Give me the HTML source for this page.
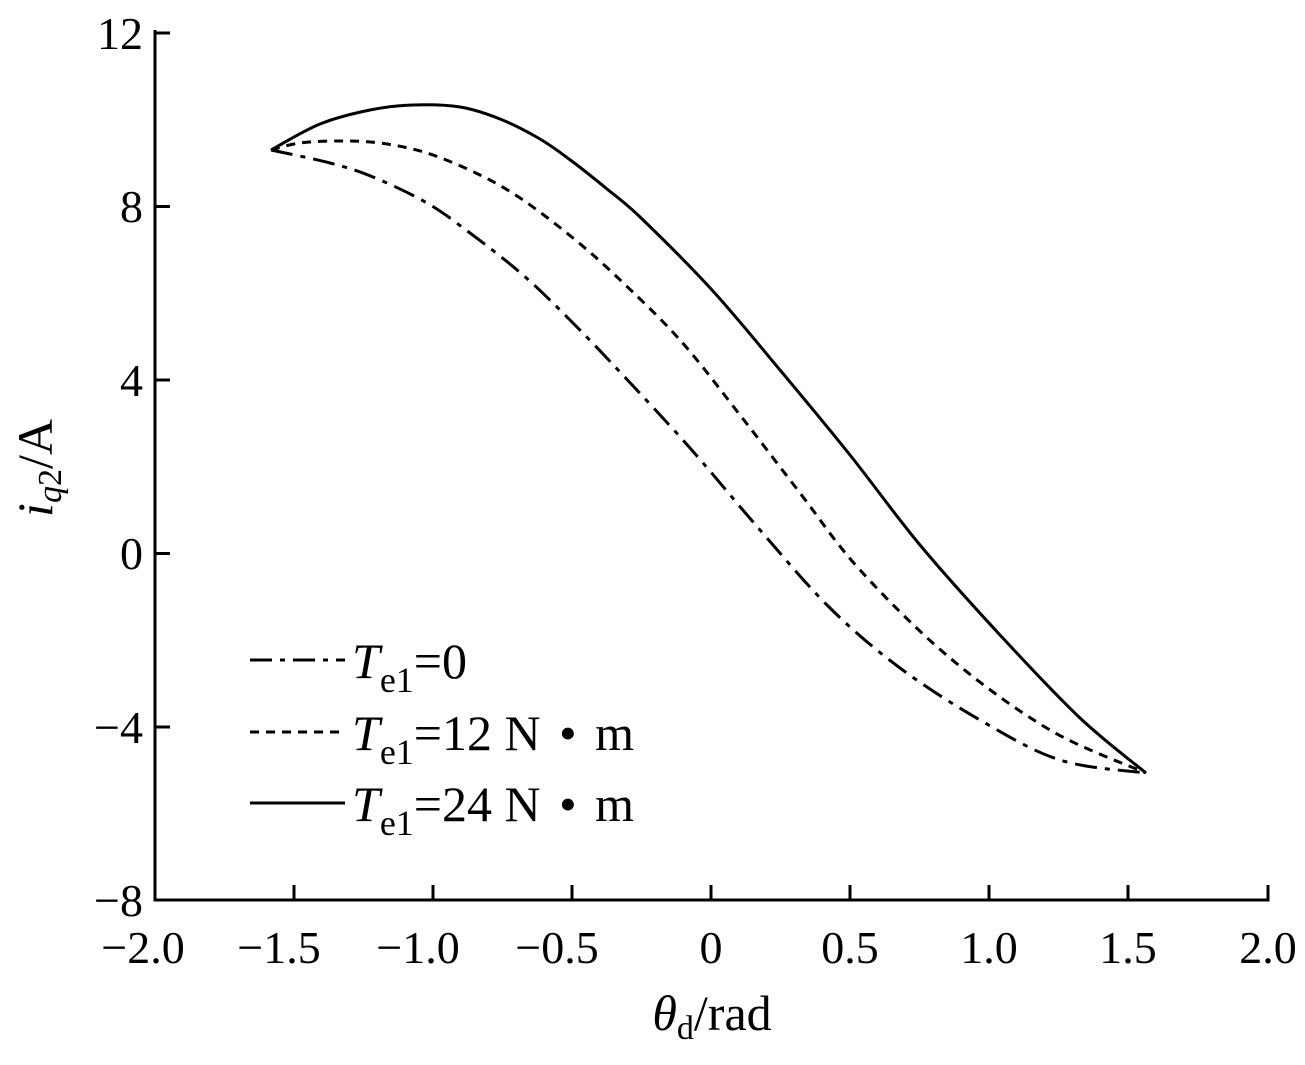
<!DOCTYPE html>
<html><head><meta charset="utf-8"><style>
html,body{margin:0;padding:0;background:#fff;}
svg{display:block;}
text{font-family:"Liberation Serif",serif;fill:#000;}
</style></head><body>
<svg id="s" width="1305" height="1065" viewBox="0 0 1305 1065" xmlns="http://www.w3.org/2000/svg">
<g stroke="#000" stroke-width="3" fill="none">
<path d="M155,30 V900 H1268 V885"/>
<path d="M155,33 H170 M155,206.5 H170 M155,380 H170 M155,553.5 H170 M155,727 H170"/>
<path d="M294,900 V885 M433,900 V885 M572,900 V885 M711,900 V885 M850,900 V885 M989,900 V885 M1128,900 V885"/>
</g>
<g font-size="46" text-anchor="end">
<text x="143" y="49">12</text>
<text x="143" y="222">8</text>
<text x="143" y="396">4</text>
<text x="143" y="569">0</text>
<text x="143" y="743">−4</text>
<text x="143" y="916">−8</text>
</g>
<g font-size="46" text-anchor="middle">
<text x="143" y="963">−2.0</text>
<text x="279" y="963">−1.5</text>
<text x="418" y="963">−1.0</text>
<text x="557" y="963">−0.5</text>
<text x="711" y="963">0</text>
<text x="850" y="963">0.5</text>
<text x="989" y="963">1.0</text>
<text x="1128" y="963">1.5</text>
<text x="1268" y="963">2.0</text>
</g>
<text x="712" y="1030" font-size="50" text-anchor="middle"><tspan font-style="italic">θ</tspan><tspan font-size="34" dy="9">d</tspan><tspan dy="-9">/rad</tspan></text>
<text transform="translate(52,468) rotate(-90)" font-size="50" text-anchor="middle"><tspan font-style="italic">i</tspan><tspan font-size="34" dy="9" font-style="italic">q</tspan><tspan font-size="34" dy="0">2</tspan><tspan dy="-9">/A</tspan></text>
<g stroke="#000" stroke-width="3" fill="none">
<path id="c1" stroke-dasharray="22,8,5,8"/>
<path id="c2" stroke-dasharray="9,7"/>
<path id="c3"/>
<path d="M250,660 H345" stroke-dasharray="22,8,5,8"/>
<path d="M250,732 H345" stroke-dasharray="9,7"/>
<path d="M250,803 H345"/>
</g>
<g font-size="50">
<text x="352" y="678"><tspan font-style="italic">T</tspan><tspan font-size="36" dy="14">e1</tspan><tspan dy="-14">=0</tspan></text>
<text x="352" y="750"><tspan font-style="italic">T</tspan><tspan font-size="36" dy="14">e1</tspan><tspan dy="-14">=12 N </tspan><tspan dx="6">•</tspan><tspan dx="6"> m</tspan></text>
<text x="352" y="821"><tspan font-style="italic">T</tspan><tspan font-size="36" dy="14">e1</tspan><tspan dy="-14">=24 N </tspan><tspan dx="6">•</tspan><tspan dx="6"> m</tspan></text>
</g>
</svg>
<script>
function cr(p){var d="M"+p[0][0]+","+p[0][1];for(var i=0;i<p.length-1;i++){var a=p[i-1]||p[i],b=p[i],c=p[i+1],e=p[i+2]||c;
d+=" C"+(b[0]+(c[0]-a[0])/6)+","+(b[1]+(c[1]-a[1])/6)+" "+(c[0]-(e[0]-b[0])/6)+","+(c[1]-(e[1]-b[1])/6)+" "+c[0]+","+c[1];}return d;}
document.getElementById("c3").setAttribute("d",cr([[271,150],[320,124],[370,110],[413,105],[460,107],[500,119],[540,139],[573,162],[607,189],[640,217],[712,290],[780,370],[850,455],[920,545],[1000,635],[1080,718],[1146,773]]));
document.getElementById("c2").setAttribute("d",cr([[271,150],[300,143],[340,141],[380,143],[427,153],[480,175],[523,200],[573,238],[617,277],[680,340],[740,415],[800,493],[860,570],[950,658],[1050,730],[1146,773]]));
document.getElementById("c1").setAttribute("d",cr([[271,150],[330,163],[373,177],[427,203],[470,233],[523,275],[570,320],[620,372],[690,448],[760,530],[830,608],[900,668],[980,720],[1060,760],[1146,773]]));
</script>
</body></html>
